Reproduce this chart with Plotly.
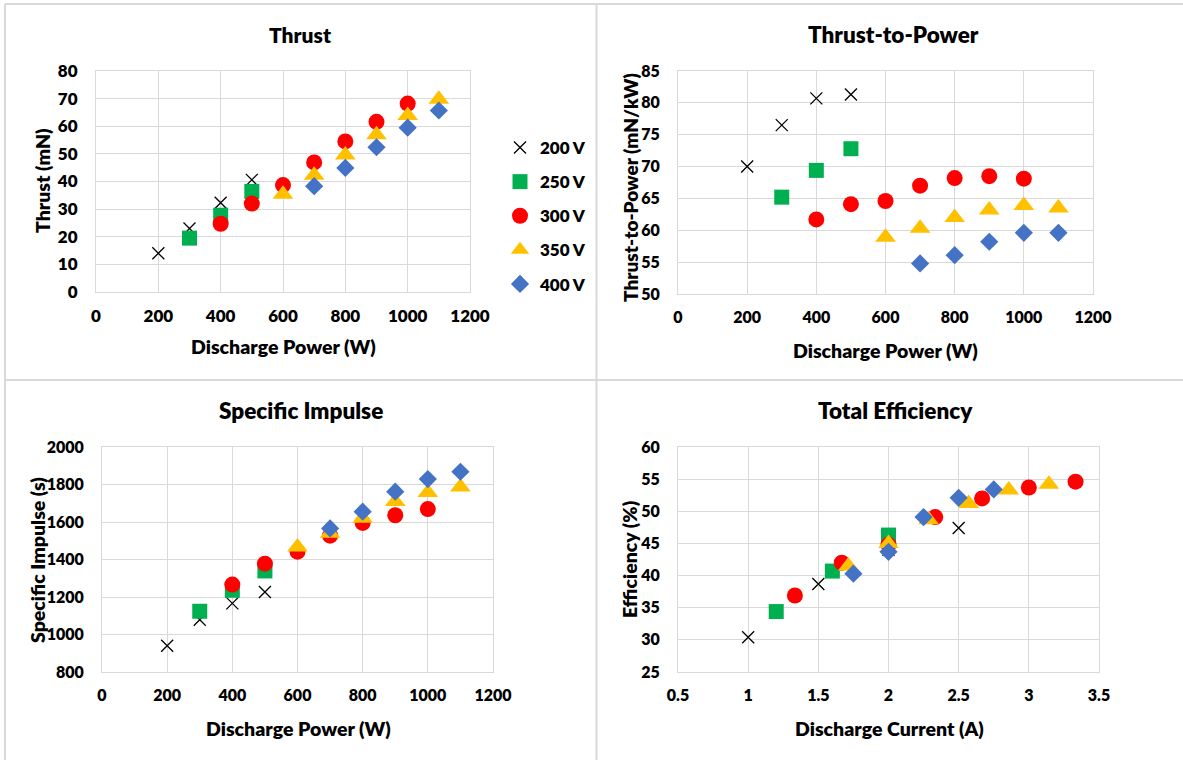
import plotly.graph_objects as go

W, H = 1183, 760

# ---------------- data ----------------
voltages = ["200 V", "250 V", "300 V", "350 V", "400 V"]

power_200 = [200, 300, 400, 500]
power_250 = [300, 400, 500]
power_300 = [400, 500, 600, 700, 800, 900, 1000]
power_350 = [600, 700, 800, 900, 1000, 1100]
power_400 = [700, 800, 900, 1000, 1100]

thrust_200 = [14.0, 23.0, 32.3, 40.6]
thrust_250 = [19.5, 27.8, 36.4]
thrust_300 = [24.7, 32.0, 38.7, 46.9, 54.5, 61.6, 68.2]
thrust_350 = [35.4, 42.3, 49.6, 56.9, 63.9, 69.8]
thrust_400 = [38.3, 44.9, 52.4, 59.5, 65.7]

tpr_200 = [70.0, 76.5, 80.7, 81.3]
tpr_250 = [65.2, 69.4, 72.8]
tpr_300 = [61.7, 64.1, 64.6, 67.0, 68.2, 68.5, 68.1]
tpr_350 = [58.9, 60.3, 62.0, 63.2, 63.9, 63.5]
tpr_400 = [54.8, 56.1, 58.2, 59.6, 59.6]

isp_200 = [940, 1079, 1166, 1227]
isp_250 = [1124, 1236, 1339]
isp_300 = [1266, 1378, 1442, 1527, 1595, 1636, 1669]
isp_350 = [1467, 1540, 1620, 1710, 1758, 1787]
isp_400 = [1566, 1655, 1762, 1829, 1868]

cur_200 = [1.0, 1.5, 2.0, 2.5]
cur_250 = [1.2, 1.6, 2.0]
cur_300 = [1.333, 1.667, 2.0, 2.333, 2.667, 3.0, 3.333]
cur_350 = [1.714, 2.0, 2.286, 2.571, 2.857, 3.143]
cur_400 = [1.75, 2.0, 2.25, 2.5, 2.75]

eff_200 = [30.4, 38.7, 44.0, 47.4]
eff_250 = [34.4, 40.7, 46.3]
eff_300 = [36.9, 42.0, 44.8, 49.1, 52.0, 53.7, 54.6]
eff_350 = [41.5, 45.0, 48.7, 51.2, 53.3, 54.2]
eff_400 = [40.3, 43.7, 49.1, 52.1, 53.4]

powers = [power_200, power_250, power_300, power_350, power_400]
currents = [cur_200, cur_250, cur_300, cur_350, cur_400]
thrusts = [thrust_200, thrust_250, thrust_300, thrust_350, thrust_400]
tprs = [tpr_200, tpr_250, tpr_300, tpr_350, tpr_400]
isps = [isp_200, isp_250, isp_300, isp_350, isp_400]
effs = [eff_200, eff_250, eff_300, eff_350, eff_400]

# ---------------- styles ----------------
markers = [
    dict(symbol="x-thin", size=12, color="black", line=dict(color="black", width=1.3)),
    dict(symbol="square", size=15, color="#00B050", line=dict(width=0)),
    dict(symbol="circle", size=16, color="#FF0000", line=dict(width=0)),
    dict(symbol="triangle-up", size=18, color="#FFC000", line=dict(width=0)),
    dict(symbol="diamond", size=14, color="#4472C4", line=dict(width=0)),
]

FONT = "Lato"
WEIGHT = 800
GRID = "#D9D9D9"

fig = go.Figure()

panels = [
    ("x", "y", powers, thrusts),
    ("x2", "y2", powers, tprs),
    ("x3", "y3", powers, isps),
    ("x4", "y4", currents, effs),
]

for pi, (xa, ya, xs, ys) in enumerate(panels):
    for i, name in enumerate(voltages):
        fig.add_trace(go.Scatter(
            x=xs[i], y=ys[i], mode="markers", name=name,
            marker=markers[i], xaxis=xa, yaxis=ya,
            legendgroup=name, showlegend=(pi == 0),
        ))

def px_x(v):
    return v / W

def px_y(v):
    return 1 - v / H

def tickfont(size):
    return dict(family=FONT, size=size, color="#000000", weight=WEIGHT)

def xaxis(dom, rng, dtick, anchor, fs):
    return dict(domain=[px_x(dom[0]), px_x(dom[1])], range=rng, dtick=dtick,
                showgrid=True, gridcolor=GRID, gridwidth=1, zeroline=False,
                showline=True, mirror=True, linecolor=GRID, linewidth=1,
                ticks="", ticklabelstandoff=9, anchor=anchor, automargin=False,
                tickfont=tickfont(fs), fixedrange=True)

def yaxis(dom, rng, dtick, anchor, fs):
    return dict(domain=[px_y(dom[1]), px_y(dom[0])], range=rng, dtick=dtick,
                showgrid=True, gridcolor=GRID, gridwidth=1, zeroline=False,
                showline=True, mirror=True, linecolor=GRID, linewidth=1,
                ticks="", ticklabelstandoff=14, anchor=anchor, automargin=False,
                tickfont=tickfont(fs), fixedrange=True)

xa1 = xaxis((96, 470), [0, 1200], 200, "y", 17)
xa2 = xaxis((678, 1093), [0, 1200], 200, "y2", 16)
xa3 = xaxis((102, 493), [0, 1200], 200, "y3", 16)
xa4 = xaxis((678, 1099), [0.5, 3.5], 0.5, "y4", 16)

ya1 = yaxis((71, 292), [0, 80], 10, "x", 17)
ya2 = yaxis((71, 294), [50, 85], 5, "x2", 16)
ya3 = yaxis((447, 672), [800, 2000], 200, "x3", 16)
ya4 = yaxis((447, 672), [25, 60], 5, "x4", 16)

annotations = []

def ann(text, x, y, size, angle=0):
    annotations.append(dict(
        text=text, x=px_x(x), y=px_y(y), xref="paper", yref="paper",
        showarrow=False, xanchor="center", yanchor="middle", textangle=angle,
        font=dict(family=FONT, size=size, color="#000000", weight=WEIGHT)))

# titles
ann("Thrust", 300, 34, 21)
ann("Thrust-to-Power", 893, 34, 22.5)
ann("Specific Impulse", 301, 410, 22.5)
ann("Total Efficiency", 895, 410, 22.5)
# axis titles
ann("Discharge Power (W)", 283, 347, 19.5)
ann("Thrust (mN)", 42, 181, 19.5, -90)
ann("Discharge Power (W)", 885, 350, 19.5)
ann("Thrust-to-Power (mN/kW)", 630, 188, 19, -90)
ann("Discharge Power (W)", 298, 728, 19.5)
ann("Specific Impulse (s)", 37, 560, 19.5, -90)
ann("Discharge Current (A)", 889, 728, 19.5)
ann("Efficiency (%)", 629, 560, 19.5, -90)

shapes = []
def line(x0, y0, x1, y1):
    shapes.append(dict(type="line", xref="paper", yref="paper",
                       x0=px_x(x0), y0=px_y(y0), x1=px_x(x1), y1=px_y(y1),
                       line=dict(color=GRID, width=2)))

line(5, 4, 1183, 4)
line(5, 4, 5, 760)
line(596.5, 4, 596.5, 760)
line(5, 380, 1183, 380)

fig.update_layout(
    width=W, height=H,
    margin=dict(l=0, r=0, t=0, b=0, autoexpand=False),
    paper_bgcolor="white", plot_bgcolor="white",
    xaxis=xa1, yaxis=ya1, xaxis2=xa2, yaxis2=ya2,
    xaxis3=xa3, yaxis3=ya3, xaxis4=xa4, yaxis4=ya4,
    annotations=annotations, shapes=shapes,
    showlegend=True,
    legend=dict(x=px_x(500), y=px_y(130), xanchor="left", yanchor="top",
                bgcolor="rgba(0,0,0,0)", tracegroupgap=9, itemwidth=30,
                font=dict(family=FONT, size=17, color="#000000", weight=WEIGHT)),
)

fig.write_html("out.html", config={"displayModeBar": False})
